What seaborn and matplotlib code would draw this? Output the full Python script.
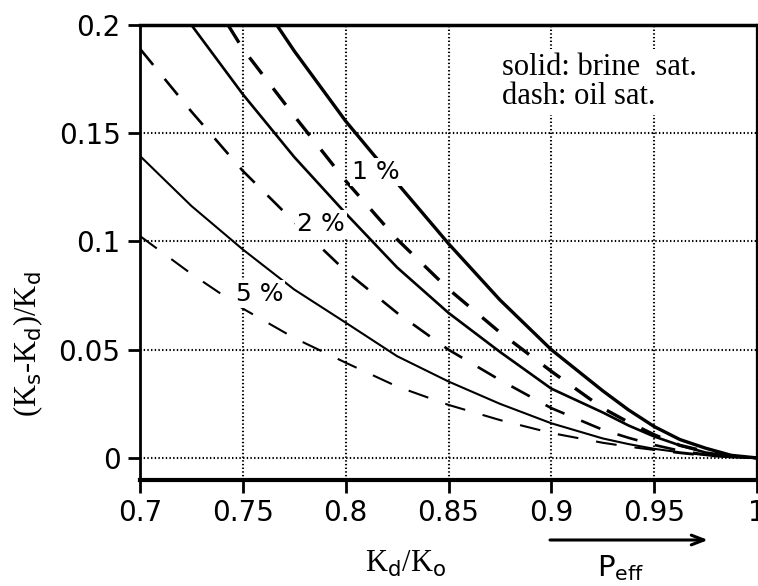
import matplotlib
matplotlib.use("Agg")
import matplotlib.pyplot as plt
import pandas as pd
import seaborn as sns

# Normalised dry-rock modulus Kd/Ko and the stiffening (Ks-Kd)/Kd
# for three porosities, brine saturated (solid) and oil saturated (dashed).
x_brine_1 = [0.7665, 0.775, 0.8, 0.825, 0.85, 0.875, 0.9, 0.925, 0.9375, 0.95, 0.9625, 0.975, 0.9875, 1.0]
y_brine_1 = [0.2, 0.188, 0.1556, 0.127, 0.099, 0.073, 0.050, 0.031, 0.0222, 0.0145, 0.0085, 0.0045, 0.0012, 0.0]

x_oil_1 = [0.7428, 0.75, 0.775, 0.8, 0.825, 0.85, 0.875, 0.9, 0.925, 0.9375, 0.95, 0.9625, 0.975, 0.9875, 1.0]
y_oil_1 = [0.2, 0.189, 0.158, 0.128, 0.101, 0.078, 0.058, 0.040, 0.023, 0.0165, 0.0107, 0.0058, 0.003, 0.0008, 0.0]

x_brine_2 = [0.725, 0.75, 0.775, 0.8, 0.825, 0.85, 0.875, 0.9, 0.925, 0.9375, 0.95, 0.9625, 0.975, 0.9875, 1.0]
y_brine_2 = [0.2, 0.168, 0.139, 0.113, 0.088, 0.067, 0.049, 0.032, 0.021, 0.0150, 0.0099, 0.0058, 0.0025, 0.0008, 0.0]

x_oil_2 = [0.7, 0.725, 0.75, 0.775, 0.8, 0.825, 0.85, 0.875, 0.9, 0.925, 0.9375, 0.95, 0.9625, 0.975, 0.9875, 1.0]
y_oil_2 = [0.189, 0.160, 0.1326, 0.109, 0.0863, 0.067, 0.050, 0.036, 0.023, 0.013, 0.0093, 0.006, 0.0033, 0.0015, 0.0004, 0.0]

x_brine_5 = [0.7, 0.725, 0.75, 0.775, 0.8, 0.825, 0.85, 0.875, 0.9, 0.925, 0.9375, 0.95, 0.9625, 0.975, 0.9875, 1.0]
y_brine_5 = [0.1395, 0.1164, 0.0963, 0.0778, 0.0625, 0.047, 0.0353, 0.025, 0.0160, 0.009, 0.0064, 0.0042, 0.0026, 0.0013, 0.0005, 0.0]

x_oil_5 = [0.7, 0.725, 0.75, 0.775, 0.8, 0.825, 0.85, 0.875, 0.9, 0.925, 0.9375, 0.95, 0.9625, 0.975, 0.9875, 1.0]
y_oil_5 = [0.1025, 0.085, 0.069, 0.0554, 0.044, 0.033, 0.0245, 0.0175, 0.0115, 0.007, 0.0052, 0.0037, 0.0022, 0.001, 0.0003, 0.0]

x_ticks = [0.7, 0.75, 0.8, 0.85, 0.9, 0.95, 1.0]
x_tick_labels = ["0.7", "0.75", "0.8", "0.85", "0.9", "0.95", "1"]
y_ticks = [0.0, 0.05, 0.1, 0.15, 0.2]
y_tick_labels = ["0", "0.05", "0.1", "0.15", "0.2"]

curve_labels = ["1 %", "2 %", "5 %"]
curve_label_pos = [(0.8146, 0.132), (0.7879, 0.108), (0.758, 0.0755)]

frames = []
for por, fluid, xs, ys in [
    ("1 %", "brine", x_brine_1, y_brine_1),
    ("1 %", "oil", x_oil_1, y_oil_1),
    ("2 %", "brine", x_brine_2, y_brine_2),
    ("2 %", "oil", x_oil_2, y_oil_2),
    ("5 %", "brine", x_brine_5, y_brine_5),
    ("5 %", "oil", x_oil_5, y_oil_5),
]:
    frames.append(pd.DataFrame({"kd_ko": xs, "ratio": ys, "porosity": por, "fluid": fluid}))
df = pd.concat(frames, ignore_index=True)

sns.set_style("ticks")
plt.rcParams["font.family"] = ["DejaVu Sans"]
plt.rcParams["text.color"] = "black"
plt.rcParams["mathtext.fontset"] = "custom"
plt.rcParams["mathtext.rm"] = "Liberation Serif"
plt.rcParams["mathtext.sf"] = "DejaVu Sans"
plt.rcParams["lines.scale_dashes"] = False

fig = plt.figure(figsize=(7.58, 5.86), dpi=100)
ax = fig.add_axes([140 / 758, 106 / 586, 617 / 758, 455 / 586])

widths = {"1 %": 2.4, "2 %": 1.9, "5 %": 1.5}
for (por, fluid), sub in df.groupby(["porosity", "fluid"], sort=False):
    sns.lineplot(data=sub, x="kd_ko", y="ratio", ax=ax, color="black",
                 lw=widths[por], sort=False, estimator=None, zorder=3)
    line = ax.lines[-1]
    line.set_solid_capstyle("butt")
    line.set_solid_joinstyle("round")
    if fluid == "oil":
        line.set_linestyle((0, (15, 13)))
        line.set_dash_capstyle("butt")

for text, (tx, ty) in zip(curve_labels, curve_label_pos):
    ax.text(tx, ty, text, fontsize=18, ha="center", va="center", zorder=5,
            bbox=dict(facecolor="white", edgecolor="none", pad=1.5))

ax.text(0.876, 0.187, "solid: brine  sat.\ndash: oil sat.", family="Liberation Serif",
        fontsize=22, ha="left", va="top", linespacing=0.98, zorder=5,
        bbox=dict(facecolor="white", edgecolor="none", pad=3))

ax.set_xlim(0.7, 1.0)
ax.set_ylim(-0.0102, 0.2)
ax.set_xticks(x_ticks)
ax.set_xticklabels(x_tick_labels)
ax.set_yticks(y_ticks)
ax.set_yticklabels(y_tick_labels)
ax.tick_params(axis="both", direction="out", length=9, width=2, labelsize=20,
               pad=5, color="black", labelcolor="black")
ax.grid(True, linestyle=":", linewidth=1.5, color="black")
ax.set_axisbelow(True)

for side, lw in {"top": 2.5, "bottom": 3.0, "left": 2.0, "right": 1.6}.items():
    ax.spines[side].set_visible(True)
    ax.spines[side].set_linewidth(lw)
    ax.spines[side].set_color("black")

ax.set_xlabel("")
ax.set_ylabel("")
fig.text(28, 242, r"(K$_\mathsf{s}$-K$_\mathsf{d}$)/K$_\mathsf{d}$", transform=None,
         family="Liberation Serif", fontsize=22, rotation=90, ha="center", va="center")
fig.text(406, 586 - 564, r"K$_\mathsf{d}$/K$_\mathsf{o}$", transform=None,
         family="Liberation Serif", fontsize=22, ha="center", va="center")

# effective-pressure direction
ax.annotate("", xy=(708, 586 - 540), xytext=(550, 586 - 540),
            xycoords="figure pixels", textcoords="figure pixels",
            arrowprops=dict(arrowstyle="->,head_length=0.9,head_width=0.35",
                            lw=2.2, color="black", shrinkA=0, shrinkB=0))
fig.text(621, 586 - 568, r"P$_\mathsf{eff}$", transform=None,
         fontsize=21, ha="center", va="center")

fig.savefig("out.png", dpi=100)
